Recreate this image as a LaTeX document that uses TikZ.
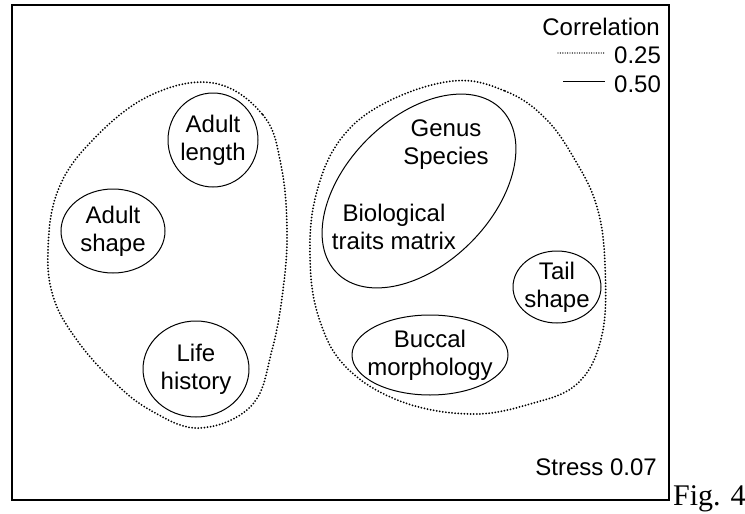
\documentclass[tikz,border=0pt]{standalone}
\usepackage{fontspec}
\setmainfont{Liberation Sans}
\newfontfamily\figfont{Liberation Serif}
\usetikzlibrary{shapes.geometric}

\begin{document}
\begin{tikzpicture}[x=1pt, y=-1pt,
    trait/.style={draw, ellipse, inner sep=0pt, line width=1pt},
    txt/.style={align=center, inner sep=0pt, font=\fontsize{24}{28}\selectfont},
    cluster/.style={line width=2pt, line cap=round, dash pattern=on 0pt off 3.1pt},
    fine/.style={line width=1.4pt, line cap=round, dash pattern=on 0pt off 2.4pt}]
    \useasboundingbox (0,0) rectangle (745,514);
    \draw[line width=1.3pt] (12,5) rectangle (669,500);

    % legend
    \node[txt, anchor=base east] (corr) at (660,35) {Correlation};
    \node[txt, anchor=base west] (q25) at (614,63) {0.25};
    \node[txt, anchor=base west] (q50) at (614,92) {0.50};
    \coordinate (d0) at (558,53);
    \coordinate (d1) at (605,53);
    \coordinate (s0) at (563,81);
    \coordinate (s1) at (605,81);
    \draw[fine] (d0) -- (d1);
    \draw[line width=1pt] (s0) -- (s1);

    % clusters at 0.25
    \draw[cluster] plot[smooth cycle, tension=0.65] coordinates {
        (213,83) (263,115) (281,165) (287,230) (283,290) (272,350) (252,405)
        (200,428) (150,410) (110,378) (74,336) (53,296) (48,250) (57,193)
        (88,145) (147,97)};
    \draw[cluster] plot[smooth cycle, tension=0.65] coordinates {
        (453,81) (505,91) (545,118) (575,160) (597,207) (605,265) (602,335)
        (578,383) (530,404) (470,414) (400,401) (345,366) (318,315) (310,255)
        (316,195) (340,140) (385,103)};

    % traits
    \node[trait, minimum width=90pt, minimum height=94pt] (length) at (213,140) {};
    \node[txt] at (length) {Adult\\length};
    \node[trait, minimum width=104pt, minimum height=84pt] (shape) at (113,231) {};
    \node[txt] at (shape) {Adult\\shape};
    \node[trait, minimum width=106pt, minimum height=96pt] (life) at (196,369) {};
    \node[txt] at (life) {Life\\history};
    \node[trait, rotate=45, minimum width=232pt, minimum height=146pt] (btm) at (419,191) {};
    \node[txt] at (446,145) {Genus\\Species};
    \node[txt] at (394,227) {Biological\\traits matrix};
    \node[trait, minimum width=88pt, minimum height=72pt] (tail) at (557,287) {};
    \node[txt] at (tail) {Tail\\shape};
    \node[trait, minimum width=156pt, minimum height=80pt] (buccal) at (430,355) {};
    \node[txt] at (buccal) {Buccal\\morphology};

    \node[txt, anchor=base east] (stress) at (657,475) {Stress 0.07};
    \node[anchor=base west, inner sep=0pt, font=\figfont\fontsize{30}{36}\selectfont] (fig) at (673,505) {Fig. 4};
\end{tikzpicture}
\end{document}
